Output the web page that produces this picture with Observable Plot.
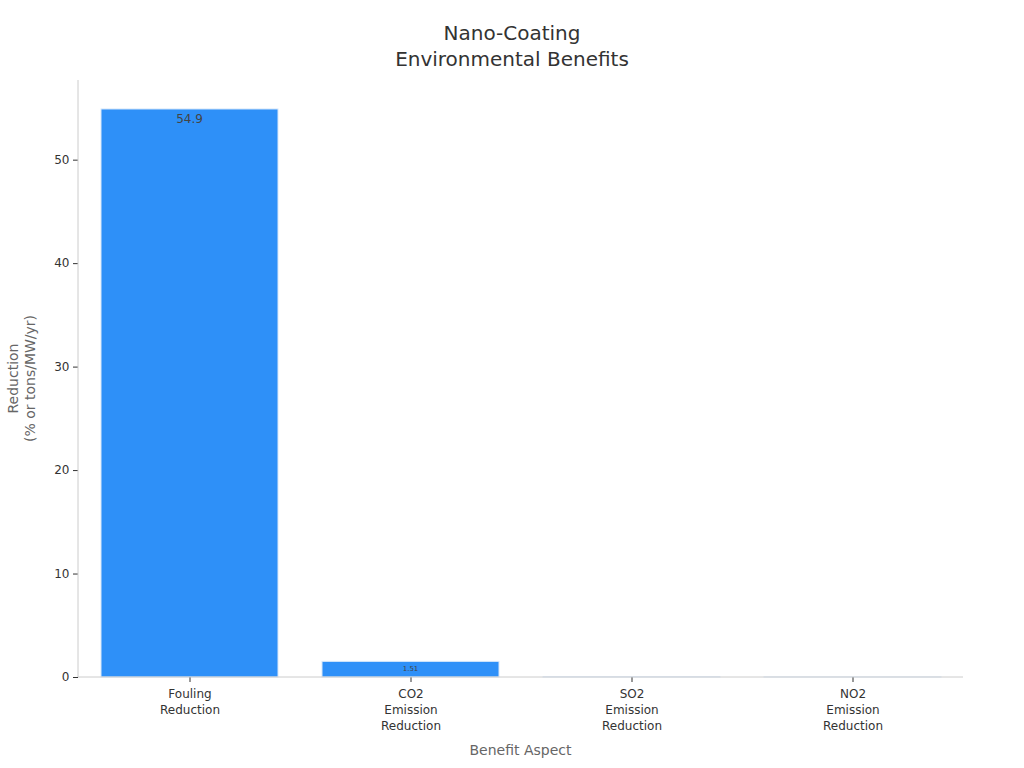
<!DOCTYPE html>
<html>
<head>
<meta charset="utf-8">
<script src="https://cdn.jsdelivr.net/npm/d3@7"></script>
<script src="https://cdn.jsdelivr.net/npm/@observablehq/plot@0.6"></script>
<style>
  body { margin: 0; background: #fff; font-family: "DejaVu Sans", sans-serif; }
  #title { width: 1024px; height: 80px; text-align: center; color: #333; font-size: 20px; line-height: 26px; padding-top: 20px; box-sizing: border-box; }
  #chart { position: relative; }
</style>
</head>
<body>
<div id="title">Nano-Coating<br>Environmental Benefits</div>
<div id="chart"></div>
<script>
const categories = ["Fouling\nReduction", "CO2\nEmission\nReduction", "SO2\nEmission\nReduction", "NO2\nEmission\nReduction"];
const values = [54.9, 1.51, 0.01, 0.005];
const labels = ["54.9", "1.51", "0.01", "0.005"];
const yTicks = [0, 10, 20, 30, 40, 50];

const data = categories.map((c, i) => ({cat: c, value: values[i], label: labels[i]}));

const W = 1024, H = 688;
const mT = 0, mB = 91, mL = 78, mR = 61;
const yMax = 57.7;
const pxPerUnit = (H - mT - mB) / yMax;

const plot = Plot.plot({
  width: W,
  height: H,
  marginTop: mT,
  marginBottom: mB,
  marginLeft: mL,
  marginRight: mR,
  style: {fontFamily: "DejaVu Sans, sans-serif", fontSize: "12px", color: "#333", background: "#fff"},
  x: {domain: categories, padding: 0.2, paddingOuter: 0.1, label: null},
  y: {domain: [0, yMax], label: null},
  marks: [
    Plot.barY(data, {x: "cat", y: "value", fill: "#2e90f8", stroke: "#d7e7fa", strokeWidth: 1}),
    Plot.axisY({ticks: yTicks, tickSize: 5, tickPadding: 4, label: null, stroke: "#333", fill: "#333"}),
    Plot.axisX({tickSize: 5, tickPadding: 4, label: null, fill: "#333", lineHeight: 1.35})
  ]
});
document.getElementById("chart").appendChild(plot);

const svg = d3.select(plot);
const xs = plot.scale("x");
const ys = plot.scale("y");

// bar value labels, centered in band, just below the bar top
const lg = svg.append("g").attr("font-family", "DejaVu Sans, sans-serif").attr("fill", "#444").attr("text-anchor", "middle");
data.forEach(d => {
  const fs = Math.min(12, d.value * pxPerUnit * 0.45);
  if (fs < 1) return;
  lg.append("text")
    .attr("x", xs.apply(d.cat) + xs.bandwidth / 2)
    .attr("y", ys.apply(d.value) + 4)
    .attr("dy", "0.8em")
    .attr("font-size", fs)
    .text(d.label);
});

// y axis line
svg.append("line").attr("x1", mL).attr("x2", mL).attr("y1", 0).attr("y2", H - mB).attr("stroke", "#ccc");
// x axis line
svg.append("line").attr("x1", mL).attr("x2", W - mR).attr("y1", H - mB).attr("y2", H - mB).attr("stroke", "#ccc");

// Y axis title
const yt = svg.append("text")
  .attr("transform", `translate(21,${(H - mB) / 2}) rotate(-90)`)
  .attr("text-anchor", "middle")
  .attr("fill", "#666")
  .attr("font-size", 14)
  .attr("font-family", "DejaVu Sans, sans-serif");
yt.append("tspan").attr("x", 0).attr("dy", "-0.25em").text("Reduction");
yt.append("tspan").attr("x", 0).attr("dy", "1.25em").text("(% or tons/MW/yr)");

// X axis title
svg.append("text")
  .attr("x", mL + (W - mL - mR) / 2)
  .attr("y", 675)
  .attr("text-anchor", "middle")
  .attr("fill", "#666")
  .attr("font-size", 14)
  .attr("font-family", "DejaVu Sans, sans-serif")
  .text("Benefit Aspect");
</script>
</body>
</html>
